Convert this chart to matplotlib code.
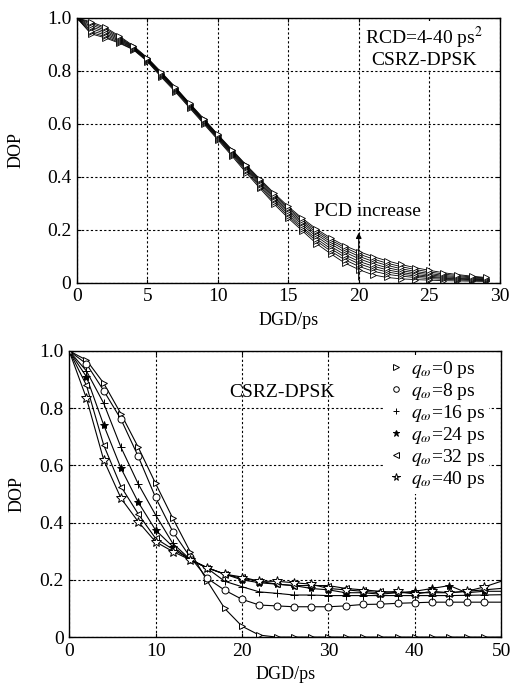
import matplotlib
matplotlib.use("Agg")
import matplotlib.pyplot as plt

plt.rcParams['font.family'] = ['Liberation Serif', 'DejaVu Serif']
plt.rcParams['mathtext.fontset'] = 'stix'

# ---- top panel: DOP vs DGD, RCD = 4-40 ps^2, several PCD values ----
dgd_top = list(range(30))
dop_top = [
    [1.0, 0.94, 0.925, 0.905, 0.88, 0.835, 0.776, 0.72, 0.66, 0.60, 0.54, 0.479, 0.416, 0.356, 0.297,
     0.244, 0.196, 0.148, 0.110, 0.075, 0.050, 0.030, 0.020, 0.015, 0.012, 0.010, 0.008, 0.007, 0.006, 0.005],
    [1.0, 0.945, 0.93, 0.908, 0.882, 0.838, 0.78, 0.724, 0.664, 0.604, 0.544, 0.484, 0.422, 0.362, 0.304,
     0.251, 0.203, 0.158, 0.120, 0.087, 0.062, 0.044, 0.032, 0.025, 0.020, 0.016, 0.013, 0.011, 0.009, 0.008],
    [1.0, 0.952, 0.936, 0.912, 0.884, 0.84, 0.783, 0.727, 0.667, 0.607, 0.547, 0.488, 0.427, 0.368, 0.311,
     0.258, 0.210, 0.166, 0.129, 0.097, 0.072, 0.054, 0.041, 0.032, 0.026, 0.021, 0.017, 0.014, 0.012, 0.010],
    [1.0, 0.96, 0.942, 0.916, 0.886, 0.842, 0.786, 0.73, 0.67, 0.61, 0.55, 0.491, 0.432, 0.373, 0.317,
     0.265, 0.218, 0.175, 0.138, 0.106, 0.081, 0.063, 0.049, 0.039, 0.031, 0.025, 0.020, 0.016, 0.014, 0.012],
    [1.0, 0.967, 0.948, 0.92, 0.888, 0.844, 0.788, 0.732, 0.672, 0.612, 0.553, 0.494, 0.436, 0.378, 0.323,
     0.271, 0.225, 0.183, 0.147, 0.116, 0.091, 0.072, 0.057, 0.046, 0.037, 0.030, 0.024, 0.019, 0.016, 0.014],
    [1.0, 0.974, 0.954, 0.924, 0.89, 0.846, 0.79, 0.734, 0.674, 0.614, 0.556, 0.497, 0.44, 0.383, 0.328,
     0.277, 0.231, 0.190, 0.155, 0.125, 0.100, 0.081, 0.066, 0.053, 0.043, 0.035, 0.028, 0.023, 0.019, 0.016],
    [1.0, 0.98, 0.96, 0.928, 0.892, 0.848, 0.792, 0.736, 0.676, 0.617, 0.558, 0.50, 0.443, 0.387, 0.333,
     0.283, 0.237, 0.197, 0.162, 0.133, 0.109, 0.090, 0.074, 0.061, 0.050, 0.041, 0.033, 0.027, 0.022, 0.018],
    [1.0, 0.985, 0.965, 0.932, 0.895, 0.85, 0.795, 0.738, 0.678, 0.62, 0.56, 0.503, 0.446, 0.391, 0.338,
     0.288, 0.243, 0.203, 0.169, 0.140, 0.118, 0.099, 0.083, 0.069, 0.057, 0.047, 0.038, 0.031, 0.025, 0.020],
]

# ---- bottom panel: DOP vs DGD for several q_omega ----
dgd_bot = list(range(0, 51, 2))
q_labels = ['0', '8', '16', '24', '32', '40']
dop_q0 = [1.0, 0.968, 0.887, 0.780, 0.663, 0.537, 0.415, 0.299, 0.195, 0.100, 0.038, 0.007, 0.0,
          0.0, 0.0, 0.0, 0.0, 0.0, 0.0, 0.0, 0.0, 0.0, 0.0, 0.0, 0.0, 0.0]
dop_q8 = [1.0, 0.955, 0.861, 0.761, 0.631, 0.488, 0.368, 0.280, 0.205, 0.164, 0.132, 0.112, 0.109,
          0.106, 0.106, 0.106, 0.109, 0.114, 0.115, 0.118, 0.120, 0.122, 0.122, 0.122, 0.122, 0.122]
dop_q16 = [1.0, 0.93, 0.817, 0.663, 0.535, 0.427, 0.327, 0.272, 0.240, 0.195, 0.176, 0.158, 0.153,
           0.147, 0.147, 0.145, 0.145, 0.145, 0.145, 0.145, 0.145, 0.145, 0.145, 0.146, 0.147, 0.148]
dop_q24 = [1.0, 0.91, 0.741, 0.590, 0.471, 0.374, 0.316, 0.270, 0.242, 0.220, 0.200, 0.190, 0.185,
           0.180, 0.170, 0.165, 0.155, 0.155, 0.150, 0.155, 0.160, 0.170, 0.180, 0.155, 0.160, 0.160]
dop_q32 = [1.0, 0.88, 0.671, 0.526, 0.430, 0.345, 0.307, 0.272, 0.242, 0.220, 0.210, 0.195, 0.185,
           0.180, 0.180, 0.180, 0.170, 0.165, 0.160, 0.155, 0.155, 0.155, 0.155, 0.160, 0.165, 0.170]
dop_q40 = [1.0, 0.835, 0.619, 0.485, 0.403, 0.333, 0.299, 0.270, 0.242, 0.220, 0.205, 0.195, 0.195,
           0.190, 0.185, 0.170, 0.165, 0.160, 0.155, 0.160, 0.150, 0.160, 0.155, 0.160, 0.175, 0.195]
dop_bot = [dop_q0, dop_q8, dop_q16, dop_q24, dop_q32, dop_q40]

fig = plt.figure(figsize=(5.12, 6.88), dpi=100)

grid_style = dict(color='black', linestyle=(0, (2, 2)), linewidth=0.8)


def style_axes(ax, xmax, xstep):
    ax.set_xlim(0, xmax)
    ax.set_ylim(0, 1.0)
    ax.set_xticks(range(0, xmax + 1, xstep))
    ax.set_yticks([0, 0.2, 0.4, 0.6, 0.8, 1.0])
    ax.set_yticklabels(['0', '0.2', '0.4', '0.6', '0.8', '1.0'])
    ax.tick_params(direction='in', length=3, width=0.8, labelsize=14, pad=4,
                   top=True, right=True)
    ax.grid(True, **grid_style)
    for s in ax.spines.values():
        s.set_linewidth(1.0)
    ax.set_xlabel('DGD/ps', fontsize=13)
    ax.set_ylabel('DOP', fontsize=13)


# top panel
ax1 = fig.add_axes([0.150, 0.589, 0.826, 0.385])
for y in dop_top:
    ax1.plot(dgd_top[:len(y)], y, color='black', linewidth=0.6, marker='>',
             markersize=4, markerfacecolor='white', markeredgewidth=0.6)
style_axes(ax1, 30, 5)
ax1.xaxis.set_label_coords(0.5, -0.11)
ax1.yaxis.set_label_coords(-0.123, 0.5)
ax1.text(24.6, 0.89, 'RCD=4-40 ps$^2$\nCSRZ-DPSK', fontsize=14, ha='center', va='center',
         linespacing=1.05, bbox=dict(facecolor='white', edgecolor='none', pad=0.5))
ax1.text(20.6, 0.27, 'PCD increase', fontsize=14, ha='center', va='center',
         bbox=dict(facecolor='white', edgecolor='none', pad=0.3))
ax1.annotate('', xy=(20, 0.2), xytext=(20, 0.0),
             arrowprops=dict(arrowstyle='-|>', color='black', lw=0.9, mutation_scale=8))

# bottom panel
ax2 = fig.add_axes([0.135, 0.074, 0.844, 0.416])
markers = ['>', 'o', '+', '*', '<', '*']
faces = ['white', 'white', 'black', 'black', 'white', 'white']
sizes = [5, 5, 6, 6, 5, 7]
for y, lab, m, fc, ms in zip(dop_bot, q_labels, markers, faces, sizes):
    ax2.plot(dgd_bot, y, color='black', linewidth=0.8, marker=m, markersize=ms,
             markerfacecolor=fc, markeredgecolor='black', markeredgewidth=0.7,
             markevery=slice(0, len(dgd_bot) - 1),
             label=r'$q_{\omega}$=' + lab + ' ps')
style_axes(ax2, 50, 10)
ax2.xaxis.set_label_coords(0.5, -0.10)
ax2.yaxis.set_label_coords(-0.102, 0.5)
ax2.text(24.6, 0.855, 'CSRZ-DPSK', fontsize=14, ha='center', va='center')
leg = ax2.legend(loc='upper right', bbox_to_anchor=(0.995, 1.02), fontsize=14, frameon=True,
                 edgecolor='none', facecolor='white', framealpha=1, handlelength=0.8,
                 handletextpad=0.4, labelspacing=0.05, borderpad=0.2, markerscale=0.8)
leg.get_frame().set_linewidth(0)
for h in leg.get_lines():
    h.set_linestyle('none')

fig.savefig('out.png', dpi=100)
